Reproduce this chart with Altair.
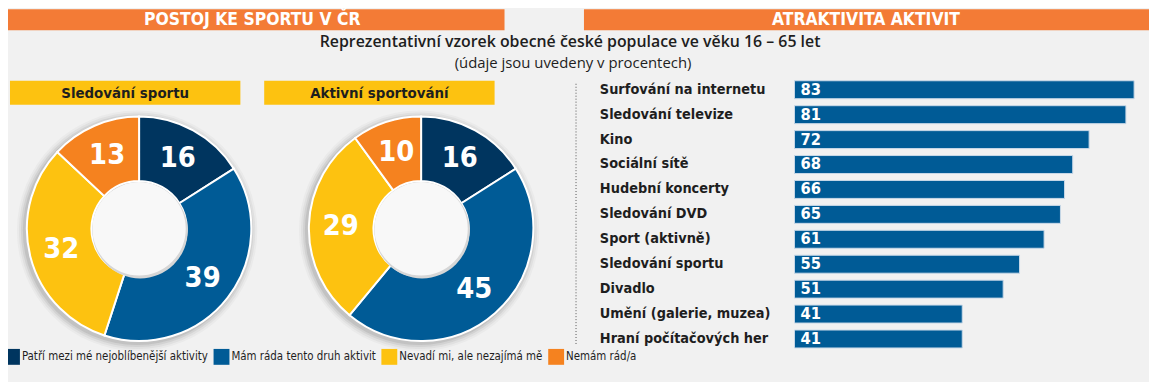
import altair as alt
import pandas as pd

# ---------------- data ----------------
header_left = ["POSTOJ KE SPORTU V ČR"]
header_right = ["ATRAKTIVITA AKTIVIT"]
subtitle = ["Reprezentativní vzorek obecné české populace ve věku 16 – 65 let"]
subtitle2 = ["(údaje jsou uvedeny v procentech)"]
donut_titles = ["Sledování sportu", "Aktivní sportování"]

donut_cats = ["Patří mezi mé nejoblíbenější aktivity", "Mám ráda tento druh aktivit",
              "Nevadí mi, ale nezajímá mě", "Nemám rád/a"]
sledovani_values = [16, 39, 32, 13]
aktivni_values = [16, 45, 29, 10]
donut_colors = ["#00355F", "#005B96", "#FDC210", "#F5821F"]

bar_cats = ["Surfování na internetu", "Sledování televize", "Kino", "Sociální sítě",
            "Hudební koncerty", "Sledování DVD", "Sport (aktivně)", "Sledování sportu",
            "Divadlo", "Umění (galerie, muzea)", "Hraní počítačových her"]
bar_values = [83, 81, 72, 68, 66, 65, 61, 55, 51, 41, 41]

# ---------------- styles ----------------
COND = "Liberation Sans Narrow, DejaVu Sans Condensed, sans-serif"
SANS = "Open Sans, Noto Sans, sans-serif"
ORANGE_HDR = "#F37B36"
YELLOW = "#FDC210"
DARK = "#1E1E1E"
BAR_BLUE = "#005B96"

W, H = 1149, 374

one = pd.DataFrame({"a": [0]})

def rect(x0, x1, y0, y1, color):
    return alt.Chart(one).mark_rect(color=color).encode(
        x=alt.value(x0), x2=alt.value(x1), y=alt.value(y0), y2=alt.value(y1))

def label(txt, x, y, size, color, font, weight="bold", align="center"):
    df = pd.DataFrame({"t": txt})
    return alt.Chart(df).mark_text(
        font=font, fontSize=size, fontWeight=weight, color=color,
        align=align, baseline="middle").encode(
        x=alt.value(x), y=alt.value(y), text="t:N")

def disc(cx, cy, r, color, op=1.0):
    return alt.Chart(one).mark_circle(color=color, opacity=op, size=(2 * r) ** 2).encode(
        x=alt.value(cx), y=alt.value(cy))

layers = []
# headers
layers.append(rect(0, 500, 0, 21, ORANGE_HDR))
layers.append(rect(580, W, 0, 21, ORANGE_HDR))
layers.append(label(header_left, 246, 11, 17.5, "white", COND))
layers.append(label(header_right, 864, 11, 17.5, "white", COND))
# subtitle
layers.append(label(subtitle, 566, 33, 16, DARK, SANS, weight=600))
layers.append(label(subtitle2, 569, 54, 15, DARK, SANS, weight="normal"))
# yellow donut titles
layers.append(rect(2, 234, 72, 96, YELLOW))
layers.append(rect(258, 490, 72, 96, YELLOW))
layers.append(label([donut_titles[0]], 118, 84, 15, DARK, COND))
layers.append(label([donut_titles[1]], 374, 84, 15, DARK, COND))

# dotted separator
layers.append(alt.Chart(one).mark_rule(color="#555555", strokeDash=[1, 2], strokeWidth=1).encode(
    x=alt.value(572), y=alt.value(75), y2=alt.value(337)))

# donuts
rows = []
for name, vals in zip(donut_titles, [sledovani_values, aktivni_values]):
    for i, (c, v) in enumerate(zip(donut_cats, vals)):
        rows.append({"chart": name, "cat": c, "idx": i, "value": v})
df_d = pd.DataFrame(rows)

centers = {donut_titles[0]: (132, 221), donut_titles[1]: (416, 221)}
color_scale = alt.Scale(domain=donut_cats, range=donut_colors)

for k, name in enumerate(donut_titles):
    cx, cy = centers[name]
    # soft shadow
    for r, op in [(121, 0.06), (119, 0.10), (117, 0.16), (115, 0.22)]:
        layers.append(disc(cx - 2, cy + 2, r, "#8A8A8A", op))
    base = alt.Chart(df_d).transform_filter(alt.datum.chart == name)
    arc = base.mark_arc(innerRadius=48, outerRadius=113, stroke="white", strokeWidth=2).encode(
        theta=alt.Theta("value:Q", stack=True),
        order=alt.Order("idx:Q"),
        color=alt.Color("cat:N", scale=color_scale,
                        legend=(alt.Legend(orient="none", legendX=-4, legendY=342, direction="horizontal",
                                           title=None, symbolType="square", symbolSize=256,
                                           symbolStrokeWidth=0, symbolOpacity=1, labelFont=COND,
                                           labelFontSize=11.5, labelColor=DARK, labelOffset=2,
                                           labelLimit=400, columnPadding=5) if k == 0 else None)),
        x=alt.value(cx), y=alt.value(cy))
    layers.append(arc)
    # hole
    layers.append(disc(cx + 1, cy + 2, 48, "#D6D6D6"))
    layers.append(disc(cx, cy, 47, "#F8F8F8"))
    txt = base.mark_text(radius=81, font=COND, fontSize=29, fontWeight="bold", color="white",
                         baseline="middle", align="center").encode(
        theta=alt.Theta("value:Q", stack=True),
        order=alt.Order("idx:Q"),
        text="value:Q",
        x=alt.value(cx), y=alt.value(cy))
    layers.append(txt)

# bars
df_b = pd.DataFrame({"cat": bar_cats, "value": bar_values})
yscale = alt.Scale(domain=bar_cats, range=[68.45, 344.55], paddingInner=0.28, paddingOuter=0.14)
xscale = alt.Scale(domain=[0, 83], range=[792, 1134], nice=False, zero=True)
ych = alt.Y("cat:N", sort=bar_cats, scale=yscale, axis=None)
layers.append(alt.Chart(df_b).mark_bar(color=BAR_BLUE, stroke="#C9D9E8", strokeWidth=1).encode(
    x=alt.X("value:Q", scale=xscale, axis=None), y=ych))
layers.append(alt.Chart(df_b).mark_text(align="left", baseline="middle", font=COND, fontSize=14.5,
                                        fontWeight="bold", color=DARK).encode(
    x=alt.value(596), y=ych, text="cat:N"))
layers.append(alt.Chart(df_b).mark_text(align="left", baseline="middle", font=COND, fontSize=16.5,
                                        fontWeight="bold", color="white").encode(
    x=alt.value(798), y=ych, text="value:Q"))

chart = alt.layer(*layers).properties(
    width=W, height=H, padding=0, autosize=alt.AutoSizeParams(type="none"),
    background="#F1F1F1"
).configure_view(stroke=None)

chart.save("out.html", embed_options={"renderer": "svg", "actions": False})
